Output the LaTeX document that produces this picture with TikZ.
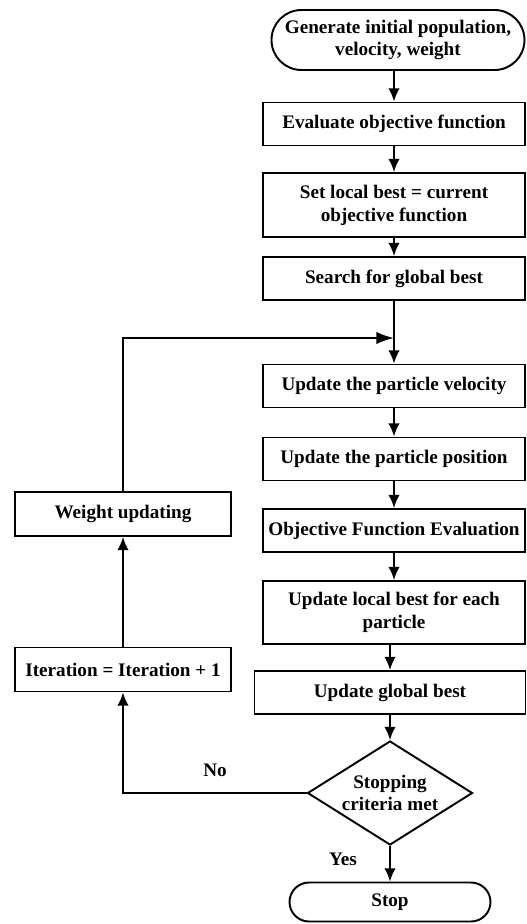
\documentclass[tikz,border=0pt]{standalone}
\usepackage{fontspec}
\setmainfont{Liberation Serif}
\usetikzlibrary{shapes.geometric}
\usetikzlibrary{arrows.meta}
\pgfdeclarelayer{edgelayer}
\pgfdeclarelayer{nodelayer}
\pgfsetlayers{edgelayer,nodelayer,main}
\tikzstyle{process}=[rectangle,draw=black,fill=white,line width=1.1pt,minimum width=5.24cm,minimum height=0.86cm,align=center,font=\fontsize{10.9}{13}\selectfont\bfseries]
\tikzstyle{terminal}=[process,rounded corners=0.4cm]
\tikzstyle{decision}=[diamond,draw=black,fill=white,line width=1.1pt,minimum width=3.3cm,minimum height=2.08cm,aspect=1.6,inner sep=0pt,align=center,font=\fontsize{10.9}{13}\selectfont\bfseries]
\tikzstyle{label_text}=[font=\fontsize{10.9}{13}\selectfont\bfseries]
\tikzstyle{transition}=[-{Latex[length=7.5pt,width=6.5pt]},draw=black,line width=1.1pt]

\begin{document}
\begin{tikzpicture}
	\useasboundingbox (0, 0) rectangle (10.54, -18.48);
	\begin{pgfonlayer}{nodelayer}
		\node [style=terminal, minimum width=5.06cm, minimum height=1.2cm, rounded corners=0.6cm] (0) at (7.96, -0.8) {Generate initial population,\\velocity, weight};
		\node [style=process] (1) at (7.88, -2.48) {Evaluate objective function};
		\node [style=process, minimum height=1.28cm] (2) at (7.88, -4.1) {Set local best = current\\objective function};
		\node [style=process] (3) at (7.88, -5.57) {Search for global best};
		\coordinate (4) at (7.88, -6.76);
		\node [style=process] (5) at (7.88, -7.72) {Update the particle velocity};
		\node [style=process] (6) at (7.88, -9.18) {Update the particle position};
		\node [style=process] (7) at (7.88, -10.61) {Objective Function Evaluation};
		\node [style=process, minimum height=1.26cm] (8) at (7.88, -12.25) {Update local best for each\\particle};
		\node [style=process, minimum width=5.42cm] (9) at (7.8, -13.85) {Update global best};
		\node [style=decision] (10) at (7.8, -15.86) {Stopping\\criteria met};
		\node [style=terminal, minimum width=4.02cm, minimum height=0.78cm, rounded corners=0.39cm] (11) at (7.8, -18.04) {Stop};
		\node [style=process, minimum width=4.32cm, minimum height=0.88cm] (12) at (2.46, -10.28) {Weight updating};
		\node [style=process, minimum width=4.32cm, minimum height=0.88cm] (13) at (2.46, -13.39) {Iteration = Iteration + 1};
		\node [style=label_text] (14) at (4.3, -15.4) {No};
		\node [style=label_text] (15) at (6.86, -17.18) {Yes};
	\end{pgfonlayer}
	\begin{pgfonlayer}{edgelayer}
		\draw [style=transition] (0.south -| 1) to (1);
		\draw [style=transition] (1) to (2);
		\draw [style=transition] (2) to (3);
		\draw [line width=1.1pt] (3) to (4);
		\draw [style=transition] (4) to (5);
		\draw [style=transition] (5) to (6);
		\draw [style=transition] (6) to (7);
		\draw [style=transition] (7) to (8);
		\draw [style=transition] (8.south -| 9) to (9);
		\draw [style=transition] (9) to (10);
		\draw [style=transition] (10) to (11);
		\draw [style=transition] (10.west) -| (13);
		\draw [style=transition] (13) to (12);
		\draw [-{Latex[length=10pt,width=7pt]}, line width=1.1pt] (12) |- (4);
	\end{pgfonlayer}
\end{tikzpicture}
\end{document}
